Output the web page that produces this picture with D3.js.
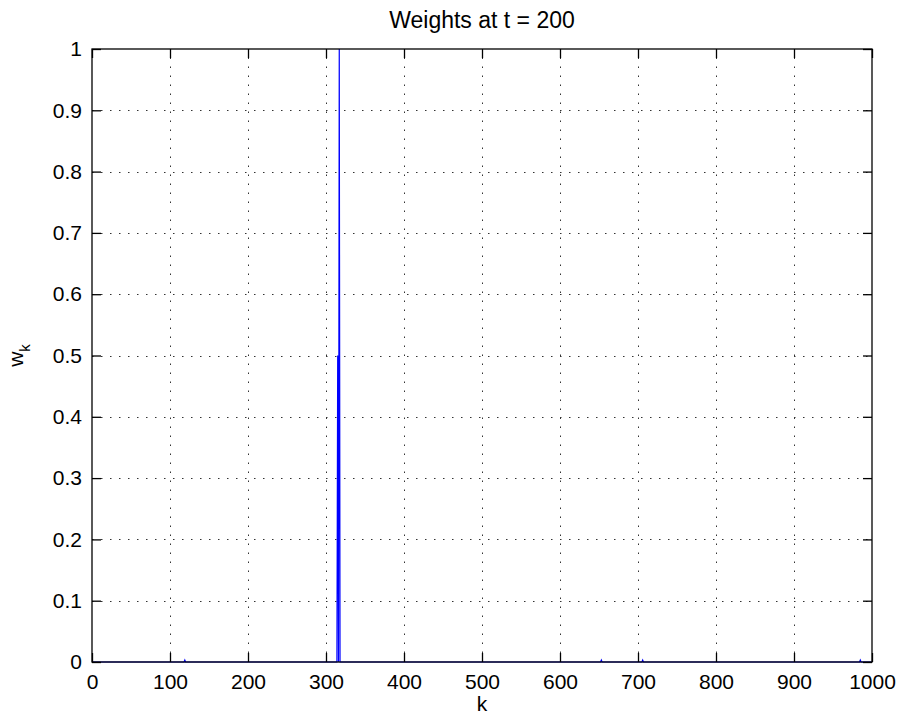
<!DOCTYPE html>
<html>
<head>
<meta charset="utf-8">
<script src="https://cdn.jsdelivr.net/npm/d3@7/dist/d3.min.js"></script>
<style>
  html, body { margin: 0; padding: 0; background: #fff; }
  svg text { font-family: "Liberation Sans", Arial, sans-serif; fill: #000; }
</style>
</head>
<body>
<svg id="chart" width="898" height="724"></svg>
<script>
// Particle weights w_k for k = 1..1000 at t = 200 (all zero except these)
const kCount = 1000;
const nonzeroK = [119, 315, 317, 653, 706, 985];
const nonzeroW = [0.003, 0.5, 1.0, 0.003, 0.003, 0.003];

const xTicks = [0, 100, 200, 300, 400, 500, 600, 700, 800, 900, 1000];
const yTicks = [0, 0.1, 0.2, 0.3, 0.4, 0.5, 0.6, 0.7, 0.8, 0.9, 1];

const titleText = "Weights at t = 200";
const xLabelText = "k";

// Full weight series
const weights = d3.range(1, kCount + 1).map(k => {
  const i = nonzeroK.indexOf(k);
  return { k, w: i >= 0 ? nonzeroW[i] : 0 };
});

const svg = d3.select("#chart");
const plotL = 92, plotR = 872, plotT = 49, plotB = 662;

const x = d3.scaleLinear().domain([0, 1000]).range([plotL, plotR]);
const y = d3.scaleLinear().domain([0, 1]).range([plotB, plotT]);

// Dotted grid
const grid = svg.append("g").attr("stroke", "#333").attr("stroke-width", 1)
  .attr("stroke-dasharray", "1.5,7.5").attr("fill", "none");
grid.selectAll("line.v").data(xTicks.slice(1, -1)).join("line")
  .attr("class", "v")
  .attr("x1", d => Math.round(x(d)) + 0.5).attr("x2", d => Math.round(x(d)) + 0.5)
  .attr("y1", plotB).attr("y2", plotT);
grid.selectAll("line.h").data(yTicks.slice(1, -1)).join("line")
  .attr("class", "h")
  .attr("y1", d => Math.round(y(d)) + 0.5).attr("y2", d => Math.round(y(d)) + 0.5)
  .attr("x1", plotL).attr("x2", plotR);

// Weight curve
const line = d3.line().x(d => x(d.k)).y(d => y(d.w));
svg.append("path").datum(weights)
  .attr("fill", "none").attr("stroke", "#0000ff").attr("stroke-width", 1.2)
  .attr("d", line);

// Axes with inward ticks on all four sides
const fmt = d3.format("~g");
const axB = svg.append("g").attr("transform", `translate(0,${plotB})`)
  .call(d3.axisBottom(x).tickValues(xTicks).tickSize(-9).tickPadding(12).tickFormat(fmt));
const axT = svg.append("g").attr("transform", `translate(0,${plotT})`)
  .call(d3.axisTop(x).tickValues(xTicks).tickSize(-9).tickFormat(""));
const axL = svg.append("g").attr("transform", `translate(${plotL},0)`)
  .call(d3.axisLeft(y).tickValues(yTicks).tickSize(-9).tickPadding(10).tickFormat(fmt));
const axR = svg.append("g").attr("transform", `translate(${plotR},0)`)
  .call(d3.axisRight(y).tickValues(yTicks).tickSize(-9).tickFormat(""));

[axB, axT, axL, axR].forEach(a => {
  a.select(".domain").remove();
  a.selectAll(".tick line").attr("stroke", "#000").attr("stroke-width", 1.3);
  a.selectAll("text").attr("font-size", 21).attr("fill", "#000")
    .attr("font-family", "'Liberation Sans', Arial, sans-serif");
});

// Box
svg.append("rect")
  .attr("x", plotL).attr("y", plotT)
  .attr("width", plotR - plotL).attr("height", plotB - plotT)
  .attr("fill", "none").attr("stroke", "#000").attr("stroke-width", 1.3);

// Title and labels
svg.append("text").attr("x", (plotL + plotR) / 2).attr("y", 28)
  .attr("text-anchor", "middle").attr("font-size", 23).text(titleText);

svg.append("text").attr("x", (plotL + plotR) / 2).attr("y", 711)
  .attr("text-anchor", "middle").attr("font-size", 21).text(xLabelText);

const yl = svg.append("text")
  .attr("transform", `translate(23,${(plotT + plotB) / 2}) rotate(-90)`)
  .attr("text-anchor", "middle").attr("font-size", 21);
yl.append("tspan").text("w");
yl.append("tspan").attr("font-size", 15).attr("dy", 7).text("k");
</script>
</body>
</html>
